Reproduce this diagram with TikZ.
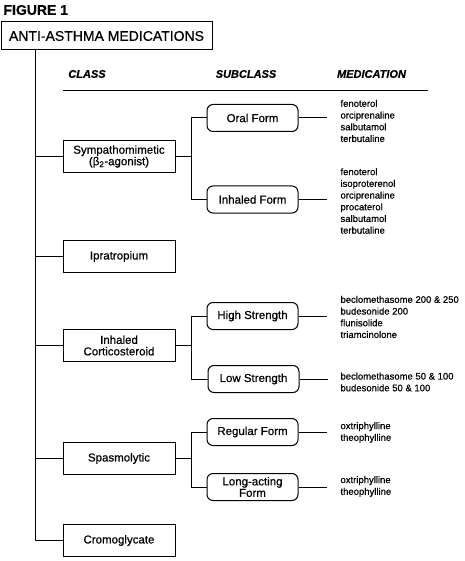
\documentclass[tikz,border=0pt]{standalone}
\usepackage{fontspec}
\setmainfont{Liberation Sans}[FakeBold=0.6]
\begin{document}
\begin{tikzpicture}[x=1pt,y=-1pt,line width=1pt,
  classbox/.style={draw, minimum width=112pt, minimum height=32pt, inner sep=1pt, align=center, font=\fontsize{11.5}{11.5}\selectfont},
  subbox/.style={draw, rounded corners=6pt, minimum width=91pt, minimum height=27pt, inner sep=1pt, align=center, font=\fontsize{11.5}{11.5}\selectfont},
  medlist/.style={anchor=west, align=left, inner sep=0pt, font=\fontsize{9.5}{11.7}\selectfont},
  header/.style={inner sep=0pt, font=\fontsize{11}{11}\selectfont\bfseries\itshape},
]
\useasboundingbox (0,0) rectangle (464,561);

\node[anchor=west, inner sep=0pt, font=\fontsize{14}{14}\selectfont\bfseries] (fig) at (3,10) {FIGURE 1};
\node[draw, minimum width=211pt, minimum height=28pt, inner sep=0pt, font=\fontsize{14}{14}\selectfont] (title) at (106.5,36) {ANTI-ASTHMA MEDICATIONS};

\node[header] (hclass) at (87,74) {CLASS};
\node[header] (hsub) at (246,74) {SUBCLASS};
\node[header] (hmed) at (371.5,74) {MEDICATION};
\draw (63,91) -- (428,91);

% class boxes
\node[classbox] (sym) at (119,156.5) {Sympathomimetic\\(β\textsubscript{2}-agonist)};
\node[classbox] (ipra) at (119,256.5) {Ipratropium};
\node[classbox] (ics) at (119,345.5) {Inhaled\\Corticosteroid};
\node[classbox] (spas) at (119,458.5) {Spasmolytic};
\node[classbox] (cromo) at (119,540.5) {Cromoglycate};

% trunk
\coordinate (trunktop) at (35,50);
\draw (trunktop) |- (cromo.west);
\foreach \n in {sym,ipra,ics,spas}{\draw (\n.west) -- (\n.west -| trunktop);}

% subclass boxes
\node[subbox] (oral) at (252.5,118) {Oral Form};
\node[subbox] (inh) at (252.5,199.5) {Inhaled Form};
\node[subbox] (high) at (252.5,316) {High Strength};
\node[subbox] (low) at (253.5,379) {Low Strength};
\node[subbox] (reg) at (252.5,432) {Regular Form};
\node[subbox] (long) at (252.5,487) {Long-acting\\Form};

\draw (sym.east) -- ++(16,0) |- (oral.west);
\draw ([xshift=16pt]sym.east) |- (inh.west);
\draw (ics.east) -- ++(16,0) |- (high.west);
\draw ([xshift=16pt]ics.east) |- (low.west);
\draw (spas.east) -- ++(16,0) |- (reg.west);
\draw ([xshift=16pt]spas.east) |- (long.west);

% medication lists
\node[medlist] (m1) at (340,121) {fenoterol\\orciprenaline\\salbutamol\\terbutaline};
\node[medlist] (m2) at (340,201) {fenoterol\\isoproterenol\\orciprenaline\\procaterol\\salbutamol\\terbutaline};
\node[medlist] (m3) at (340,317) {beclomethasome 200 \& 250\\budesonide 200\\flunisolide\\triamcinolone};
\node[medlist] (m4) at (340,382) {beclomethasome 50 \& 100\\budesonide 50 \& 100};
\node[medlist] (m5) at (340,432.5) {oxtriphylline\\theophylline};
\node[medlist] (m6) at (340,486.5) {oxtriphylline\\theophylline};

\foreach \s in {oral,inh,high,low,reg,long}{\draw (\s.east) -- ++(28,0);}
\end{tikzpicture}
\end{document}
